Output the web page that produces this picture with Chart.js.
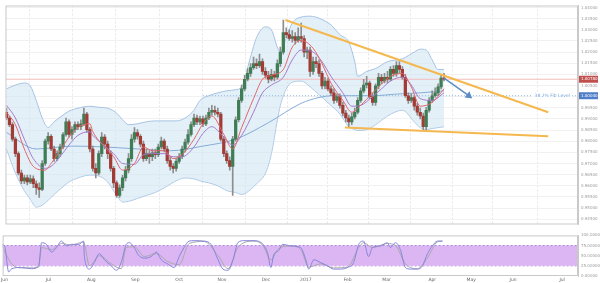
<!DOCTYPE html>
<html>
<head>
<meta charset="utf-8">
<script src="https://cdn.jsdelivr.net/npm/chart.js@4.4.1/dist/chart.umd.min.js"></script>
<style>
html,body{margin:0;padding:0;background:#fff;}
#wrap{position:relative;width:600px;height:283px;overflow:hidden;}
#main{position:absolute;left:0;top:0;}
#rsi{position:absolute;left:0;top:230px;}
</style>
</head>
<body>
<div id="wrap">
<canvas id="main" width="600" height="230"></canvas>
<canvas id="rsi" width="600" height="53"></canvas>
</div>
<script>
// daily candles, index 0 = first trading day of June 2016
var openP = [
.9930,.9904,.9874,.9809,.9744,.9657,.9622,.9635,.9617,.9631,
.9609,.9591,.9583,.9700,.9800,.9822,.9765,.9722,.9744,.9774,
.9830,.9887,.9830,.9852,.9874,.9865,.9878,.9922,.9852,.9765,
.9678,.9657,.9744,.9818,.9787,.9744,.9678,.9613,.9557,.9591,
.9635,.9670,.9722,.9809,.9839,.9822,.9787,.9722,.9744,.9730,
.9748,.9739,.9774,.9800,.9765,.9713,.9687,.9678,.9709,.9730,
.9765,.9796,.9830,.9874,.9904,.9887,.9900,.9878,.9904,.9930,
.9939,.9930,.9922,.9809,.9744,.9713,.9687,.9809,.9896,.9983,
1.0035,1.0078,1.0104,1.0130,1.0148,1.0139,1.0157,1.0113,1.0096,1.0078,
1.0100,1.0087,1.0148,1.0200,1.0287,1.0278,1.0261,1.0270,1.0252,1.0270,
1.0261,1.0200,1.0209,1.0113,1.0157,1.0148,1.0104,1.0048,1.0070,1.0035,
1.0017,.9983,1.0000,.9961,.9926,.9904,.9887,.9909,.9930,.9983,
1.0026,1.0052,1.0061,1.0000,.9974,1.0048,1.0087,1.0070,1.0087,1.0078,
1.0122,1.0104,1.0139,1.0122,1.0087,1.0004,.9983,.9996,.9957,.9930,
.9913,.9865,.9939,.9983,1.0004,1.0017,1.0044,1.0083];
var highP = [
.9948,.9913,.9883,.9818,.9752,.9670,.9648,.9648,.9648,.9644,
.9622,.9613,.9713,.9809,.9839,.9830,.9778,.9757,.9787,.9839,
.9904,.9896,.9865,.9887,.9887,.9896,.9948,.9930,.9861,.9778,
.9700,.9757,.9839,.9830,.9800,.9757,.9687,.9622,.9604,.9648,
.9687,.9744,.9830,.9861,.9852,.9830,.9800,.9765,.9757,.9765,
.9765,.9787,.9818,.9809,.9778,.9730,.9700,.9722,.9744,.9778,
.9809,.9852,.9887,.9922,.9917,.9913,.9913,.9917,.9948,.9961,
.9957,.9948,.9930,.9822,.9757,.9730,.9822,.9909,.9996,1.0052,
1.0096,1.0126,1.0148,1.0178,1.0170,1.0191,1.0170,1.0130,1.0113,1.0122,
1.0113,1.0165,1.0222,1.0343,1.0309,1.0300,1.0296,1.0287,1.0309,1.0330,
1.0274,1.0222,1.0222,1.0178,1.0178,1.0165,1.0113,1.0087,1.0083,1.0048,
1.0035,1.0013,1.0013,.9974,.9939,.9917,.9926,.9948,.9996,1.0039,
1.0078,1.0091,1.0070,1.0017,1.0057,1.0104,1.0100,1.0104,1.0113,1.0135,
1.0139,1.0157,1.0157,1.0135,1.0100,1.0017,1.0013,1.0004,.9970,.9948,
.9926,.9952,.9996,1.0026,1.0039,1.0057,1.0100,1.0104];
var lowP = [
.9896,.9865,.9800,.9730,.9648,.9609,.9609,.9604,.9609,.9591,
.9561,.9548,.9578,.9691,.9787,.9757,.9709,.9713,.9730,.9765,
.9822,.9818,.9809,.9839,.9852,.9852,.9870,.9839,.9752,.9665,
.9635,.9648,.9730,.9765,.9722,.9665,.9591,.9548,.9548,.9578,
.9622,.9657,.9709,.9796,.9809,.9774,.9709,.9713,.9700,.9713,
.9722,.9730,.9765,.9752,.9700,.9670,.9657,.9665,.9700,.9722,
.9752,.9787,.9822,.9865,.9874,.9874,.9865,.9870,.9896,.9917,
.9917,.9909,.9800,.9730,.9700,.9670,.9557,.9800,.9887,.9974,
1.0026,1.0070,1.0091,1.0122,1.0126,1.0130,1.0100,1.0083,1.0061,1.0070,
1.0070,1.0078,1.0135,1.0191,1.0265,1.0252,1.0244,1.0235,1.0244,1.0244,
1.0178,1.0170,1.0091,1.0100,1.0130,1.0091,1.0035,1.0035,1.0026,1.0004,
.9970,.9974,.9948,.9913,.9887,.9861,.9874,.9900,.9922,.9974,
1.0017,1.0039,.9991,.9961,.9961,1.0035,1.0057,1.0061,1.0061,1.0070,
1.0091,1.0091,1.0104,1.0078,.9996,.9970,.9974,.9939,.9917,.9900,
.9852,.9852,.9930,.9974,.9996,1.0004,1.0035,1.0070];
var closeP = [
.9904,.9874,.9809,.9744,.9657,.9622,.9635,.9617,.9631,.9609,
.9591,.9583,.9700,.9800,.9822,.9765,.9722,.9744,.9774,.9830,
.9887,.9830,.9852,.9874,.9865,.9878,.9922,.9852,.9765,.9678,
.9657,.9744,.9818,.9787,.9744,.9678,.9613,.9557,.9591,.9635,
.9670,.9722,.9809,.9839,.9822,.9787,.9722,.9744,.9730,.9748,
.9739,.9774,.9800,.9765,.9713,.9687,.9678,.9709,.9730,.9765,
.9796,.9830,.9874,.9904,.9887,.9900,.9878,.9904,.9930,.9939,
.9930,.9922,.9809,.9744,.9713,.9687,.9809,.9896,.9983,1.0035,
1.0078,1.0104,1.0130,1.0148,1.0139,1.0157,1.0113,1.0096,1.0078,1.0100,
1.0087,1.0148,1.0200,1.0287,1.0278,1.0261,1.0270,1.0252,1.0270,1.0261,
1.0200,1.0209,1.0113,1.0157,1.0148,1.0104,1.0048,1.0070,1.0035,1.0017,
.9983,1.0000,.9961,.9926,.9904,.9887,.9909,.9930,.9983,1.0026,
1.0052,1.0061,1.0000,.9974,1.0048,1.0087,1.0070,1.0087,1.0078,1.0122,
1.0104,1.0139,1.0122,1.0087,1.0004,.9983,.9996,.9957,.9930,.9913,
.9865,.9939,.9983,1.0004,1.0017,1.0044,1.0083,1.0078];

// bollinger bands
var bbIdx = [0,3,6,8,10,12,14,16,19,21,24,28,31,34,37,39,41,44,47,50,53,57,60,63,65,68,71,74,77,79,82,84,87,89,91,92,94,96,99,102,105,109,112,115,117,118,121,124,128,133,137,139,141,143,145,147];
var bbUpper = [1.0035,1.0052,1.0061,1.0048,0.9983,0.9904,0.9861,0.9887,0.9917,0.9935,0.9948,0.9957,0.9952,0.9948,0.9926,0.9896,0.9874,0.9878,0.9887,0.9891,0.9891,0.9891,0.9904,0.9939,0.9983,1.0004,1.0017,1.0026,1.0031,1.0044,1.0178,1.0265,1.0313,1.0300,1.0222,1.0200,1.0265,1.0330,1.0357,1.0361,1.0352,1.0322,1.0278,1.0244,1.0157,1.0091,1.0113,1.0126,1.0157,1.0170,1.0200,1.0213,1.0209,1.0165,1.0122,1.0122];
var bbLower = [0.9765,0.9657,0.9578,0.9539,0.9504,0.9513,0.9535,0.9561,0.9596,0.9617,0.9635,0.9648,0.9644,0.9617,0.9557,0.9527,0.9530,0.9543,0.9557,0.9570,0.9591,0.9622,0.9635,0.9631,0.9622,0.9613,0.9600,0.9578,0.9570,0.9561,0.9583,0.9609,0.9657,0.9744,0.9896,0.9961,1.0035,1.0065,1.0070,1.0044,1.0009,0.9961,0.9922,0.9865,0.9852,0.9848,0.9852,0.9874,0.9913,0.9939,0.9887,0.9861,0.9852,0.9857,0.9861,0.9865];

// moving averages
var maIdx = [0,3,6,9,13,15,18,21,24,28,29,33,36,39,43,46,49,53,56,59,63,66,69,73,76,79,83,86,89,93,96,99,103,106,109,113,116,119,123,126,129,133,136,139,143,147];
var maFast = [0.9930,0.9874,0.9765,0.9687,0.9670,0.9700,0.9757,0.9818,0.9861,0.9878,0.9843,0.9774,0.9730,0.9670,0.9700,0.9774,0.9757,0.9757,0.9722,0.9739,0.9809,0.9878,0.9913,0.9830,0.9765,0.9861,0.9991,1.0078,1.0096,1.0122,1.0222,1.0252,1.0217,1.0148,1.0061,0.9983,0.9930,0.9961,1.0017,1.0057,1.0091,1.0104,1.0044,0.9957,0.9974,1.0035];
var maMid = [0.9961,0.9904,0.9809,0.9722,0.9678,0.9687,0.9730,0.9783,0.9826,0.9843,0.9826,0.9778,0.9744,0.9700,0.9696,0.9739,0.9744,0.9744,0.9730,0.9730,0.9774,0.9835,0.9865,0.9818,0.9783,0.9826,0.9930,1.0017,1.0052,1.0087,1.0165,1.0209,1.0200,1.0157,1.0091,1.0017,0.9957,0.9961,1.0000,1.0035,1.0070,1.0087,1.0052,0.9991,0.9983,1.0017];
var slowIdx = [0,10,22,33,44,55,66,77,88,99,105,110,116,122,133,139,147];
var maSlow = [0.9839,0.9765,0.9778,0.9774,0.9765,0.9757,0.9778,0.9809,0.9883,0.9970,0.9996,1.0004,1.0004,1.0004,1.0013,1.0017,1.0026];

// drawn studies
var trendHighIdx = [93.7, 182], trendHigh = [1.0344, 0.9930];
var trendLowIdx = [113.7, 182], trendLow = [0.9861, 0.9822];
var arrowIdx = [147, 155.3], arrowVal = [1.0083, 1.0004];
var fibLevel = 1.0004, fibStart = 66, fibName = '38.2% Fib Level';

// RSI panel
var rsiIdx = [-0.7,0.3,1.7,2.7,6,9.3,11.7,12.7,14.3,16,17.7,19.3,21,22.7,25.3,26.7,27,28.7,30.3,32,33.7,36,37.7,39.3,41,42,43.7,45,47,49.3,51,52.7,55,57,58.7,60.3,62,63.7,67,69.3,71.7,73.3,75,76.7,78.3,80.3,83.7,86.7,88.3,89.3,90.3,92,93.3,96,99.3,101,102,103.7,106,108.3,110.3,112.7,115,117,118.7,120.3,122,123.3,126,128.3,129.3,131,132.7,134.3,136,138.3,140,141.7,143.3,145,146.7];
var rsiVals = [78,75,10,18,21,18,25,82,78,59,70,86,74,78,78,86,48,17,33,55,40,25,14,33,78,82,70,52,44,48,59,40,29,21,48,70,86,87,86,78,40,17,14,40,82,87,87,78,55,21,52,63,78,74,70,40,17,40,33,25,17,17,21,33,78,86,48,70,74,82,70,82,63,21,17,17,25,55,74,86,86];
var sigIdx = [-0.7,2.7,6,9.3,11.7,12.7,16,19.3,22.7,26.7,28.7,32,36,39.3,41,43.7,47,51,55,58.7,62,67,71.7,75,78.3,83.7,86.7,89.3,92,96,99.3,102,106,110.3,115,118.7,120.3,123.3,128.3,131,134.3,138.3,141.7,145,146.7];
var sigVals = [76,30,20,20,22,70,65,80,76,84,25,50,30,18,70,72,48,55,35,28,80,85,50,18,70,86,75,40,68,74,65,22,30,20,22,70,82,70,80,75,30,18,45,84,86];
var rsiBand = [25, 75];
var rsiTicks = [0, 25, 50, 75, 100];

// axes
var monthIdx = [0.3, 15, 29.3, 44, 58.7, 73, 87.7, 101, 115, 128, 143.3, 156.3, 170.3, 186.7];
var monthLabels = ['Jun','Jul','Aug','Sep','Oct','Nov','Dec','2017','Feb','Mar','Apr','May','Jun','Jul'];
var priceTicks = [1.04,1.035,1.03,1.025,1.02,1.015,1.01,1.005,1.0,0.995,0.99,0.985,0.98,0.975,0.97,0.965,0.96,0.955,0.95,0.945];

var xMin = -0.33, xMax = 192;
var lastClose = closeP[closeP.length - 1];
var FONT = '"DejaVu Sans"';

function pts(ix, vals) {
	return ix.map(function(x, k){ return {x: x, y: vals[k]}; });
}
function line(data, color, extra) {
	var d = {type: 'line', data: data, borderColor: color, borderWidth: 1, pointRadius: 0, fill: false, cubicInterpolationMode: 'monotone'};
	for (var k in extra) d[k] = extra[k];
	return d;
}

var frame = {
	id: 'frame',
	afterDraw: function(chart) {
		var a = chart.chartArea, c = chart.ctx;
		c.save();
		c.strokeStyle = '#c9c9c9';
		c.lineWidth = 1;
		c.strokeRect(a.left + 0.5, a.top + 0.5, a.right - a.left - 1, a.bottom - a.top - 1);
		c.restore();
	}
};

var tags = {
	id: 'tags',
	afterDraw: function(chart) {
		var y = chart.scales.y, a = chart.chartArea, c = chart.ctx;
		c.save();
		var fy = y.getPixelForValue(fibLevel);
		c.font = '4.5px ' + FONT;
		var w = c.measureText(fibName).width;
		var tx = a.right - 8 - w;
		c.fillStyle = '#fff';
		c.fillRect(tx - 2, fy - 3, w + 4, 6);
		c.fillStyle = '#6f9fd6';
		c.textBaseline = 'middle';
		c.fillText(fibName, tx, fy);
		function tag(v, col) {
			var py = y.getPixelForValue(v);
			c.fillStyle = col;
			c.fillRect(a.right + 1, py - 3.5, 19, 7);
			c.fillStyle = '#fff';
			c.font = '4px ' + FONT;
			c.fillText(v.toFixed(5), a.right + 3, py);
		}
		tag(lastClose, '#c0504d');
		tag(fibLevel, '#4f7fc8');
		c.restore();
	}
};

var bodies = closeP.map(function(cl, i){ return {x: i, y: [openP[i], cl]}; });
var wicks = closeP.map(function(cl, i){ return {x: i, y: [lowP[i], highP[i]]}; });
var bodyCols = closeP.map(function(cl, i){ return cl >= openP[i] ? '#3f7d55' : '#a23b34'; });

new Chart(document.getElementById('main'), {
	type: 'bar',
	data: {
		datasets: [
			line(pts(bbIdx, bbUpper), '#a6c2e3', {fill: '+1', backgroundColor: 'rgba(205,228,242,0.55)', order: 10}),
			line(pts(bbIdx, bbLower), '#a6c2e3', {order: 10}),
			line(pts([xMin, xMax], [lastClose, lastClose]), '#f3bcbc', {order: 9, cubicInterpolationMode: 'default'}),
			line(pts([fibStart, xMax], [fibLevel, fibLevel]), '#8fb4e0', {order: 9, borderDash: [1, 2], cubicInterpolationMode: 'default'}),
			line(pts(slowIdx, maSlow), '#86acd8', {order: 8}),
			{type: 'bar', data: wicks, backgroundColor: '#8d8d8d', barThickness: 1, grouped: false, order: 5},
			{type: 'bar', data: bodies, backgroundColor: bodyCols, barThickness: 2.6, grouped: false, order: 4},
			line(pts(maIdx, maFast), '#e0666a', {order: 3}),
			line(pts(maIdx, maMid), '#a57bc9', {order: 3}),
			line(pts(trendHighIdx, trendHigh), '#f4b84f', {order: 2, borderWidth: 2, cubicInterpolationMode: 'default'}),
			line(pts(trendLowIdx, trendLow), '#f4b84f', {order: 2, borderWidth: 2, cubicInterpolationMode: 'default'}),
			line(pts(arrowIdx, arrowVal), '#5b8dc6', {order: 1, borderWidth: 1.5, cubicInterpolationMode: 'default',
				pointRadius: [0, 3], pointStyle: 'triangle', pointRotation: [0, 128], pointBackgroundColor: '#5b8dc6', pointBorderColor: '#5b8dc6'})
		]
	},
	options: {
		responsive: false,
		animation: false,
		devicePixelRatio: 1,
		layout: {padding: {left: 1, top: 2, bottom: 2, right: 0}},
		plugins: {legend: {display: false}, tooltip: {enabled: false}},
		scales: {
			x: {
				type: 'linear', min: xMin, max: xMax, offset: false,
				afterBuildTicks: function(s){ s.ticks = monthIdx.map(function(v){ return {value: v}; }); },
				afterFit: function(s){ s.height = 0; },
				ticks: {display: false},
				grid: {color: '#e6e6e6', drawTicks: false},
				border: {display: false, dash: [2, 2]}
			},
			y: {
				position: 'right', min: 0.9426, max: 1.0409,
				afterBuildTicks: function(s){ s.ticks = priceTicks.map(function(v){ return {value: v}; }); },
				afterFit: function(s){ s.width = 22; },
				ticks: {color: '#9a9a9a', font: {family: 'DejaVu Sans', size: 4}, padding: 3,
					callback: function(v){ return v.toFixed(5); }},
				grid: {color: '#f1f1f1', drawTicks: false},
				border: {color: '#c9c9c9'}
			}
		}
	},
	plugins: [frame, tags]
});

new Chart(document.getElementById('rsi'), {
	type: 'line',
	data: {
		datasets: [
			line(pts([xMin, xMax], [rsiBand[1], rsiBand[1]]), '#b184d8', {fill: '+1', backgroundColor: '#dcb6f3', borderDash: [2, 2], cubicInterpolationMode: 'default', order: 10}),
			line(pts([xMin, xMax], [rsiBand[0], rsiBand[0]]), '#b184d8', {borderDash: [2, 2], cubicInterpolationMode: 'default', order: 10}),
			line(pts(sigIdx, sigVals), '#a8a8a8', {order: 2}),
			line(pts(rsiIdx, rsiVals), '#8585dc', {order: 1})
		]
	},
	options: {
		responsive: false,
		animation: false,
		devicePixelRatio: 1,
		layout: {padding: {left: 1, top: 2, bottom: 0, right: 0}},
		plugins: {legend: {display: false}, tooltip: {enabled: false}},
		scales: {
			x: {
				type: 'linear', min: xMin, max: xMax,
				afterBuildTicks: function(s){ s.ticks = monthIdx.map(function(v){ return {value: v}; }); },
				afterFit: function(s){ s.height = 7; },
				ticks: {color: '#666', font: {family: 'DejaVu Sans', size: 4.5}, padding: 1, maxRotation: 0, autoSkip: false,
					callback: function(v, i){ return monthLabels[i]; }},
				grid: {display: false, drawTicks: false},
				border: {display: false}
			},
			y: {
				position: 'right', min: 0, max: 100,
				afterBuildTicks: function(s){ s.ticks = rsiTicks.map(function(v){ return {value: v}; }); },
				afterFit: function(s){ s.width = 22; },
				ticks: {color: '#9a9a9a', font: {family: 'DejaVu Sans', size: 4}, padding: 3,
					callback: function(v){ return v.toFixed(5); }},
				grid: {display: false, drawTicks: false},
				border: {color: '#c9c9c9'}
			}
		}
	},
	plugins: [frame]
});
</script>
</body>
</html>
